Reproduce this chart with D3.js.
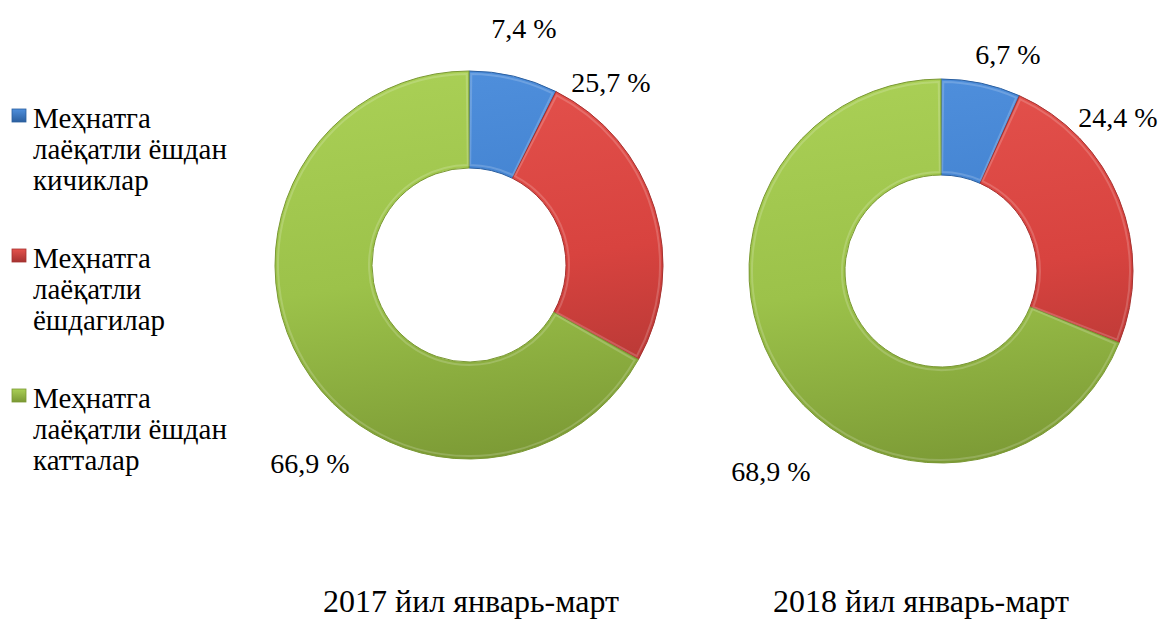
<!DOCTYPE html>
<meta charset="utf-8">
<style>
body {
  margin: 0;
  background: #fff;
}
svg text {
  font-family: "Liberation Serif", "Times New Roman", serif;
  fill: #000;
}
</style>
<body>
<script src="https://cdn.jsdelivr.net/npm/d3@7/dist/d3.min.js"></script>
<script>
var width = 1161,
    height = 619;

// data
var categories = ["Меҳнатга лаёқатли ёшдан кичиклар",
                  "Меҳнатга лаёқатли ёшдагилар",
                  "Меҳнатга лаёқатли ёшдан катталар"];
var legendLines = [["Меҳнатга", "лаёқатли ёшдан", "кичиклар"],
                   ["Меҳнатга", "лаёқатли", "ёшдагилар"],
                   ["Меҳнатга", "лаёқатли ёшдан", "катталар"]];
var periods = ["2017 йил январь-март", "2018 йил январь-март"];
var values2017 = [7.4, 25.7, 66.9];
var values2018 = [6.7, 24.4, 68.9];

// layout
var colors = ["#3f7fcd", "#d8433f", "#9cc24a"];
var darks = ["#2b5f9f", "#a53230", "#7a9834"];
var lights = ["#4f8fdc", "#e4524d", "#a9cf55"];
var donuts = [
  {cx: 469, cy: 265, r: 194, values: values2017, title: periods[0], tx: 471,
   labels: [[55, -227], [142, -173], [-159, 208]]},
  {cx: 941, cy: 271, r: 192, values: values2018, title: periods[1], tx: 921,
   labels: [[67, -207], [177, -144], [-170, 210]]}
];

var svg = d3.select("body").append("svg")
    .attr("width", width)
    .attr("height", height);

var defs = svg.append("defs");
colors.forEach(function(c, i) {
  var g = defs.append("linearGradient")
      .attr("id", "grad" + i)
      .attr("gradientUnits", "userSpaceOnUse")
      .attr("x1", 0).attr("y1", -200).attr("x2", 60).attr("y2", 200);
  g.append("stop").attr("offset", "0%").attr("stop-color", lights[i]);
  g.append("stop").attr("offset", "50%").attr("stop-color", c);
  g.append("stop").attr("offset", "100%").attr("stop-color", darks[i]);
  var m = defs.append("linearGradient")
      .attr("id", "mark" + i)
      .attr("x1", 0).attr("y1", 0).attr("x2", 0).attr("y2", 1);
  m.append("stop").attr("offset", "0%").attr("stop-color", lights[i]);
  m.append("stop").attr("offset", "100%").attr("stop-color", darks[i]);
});

var pie = d3.pie().sort(null).value(function(d) { return d; });

donuts.forEach(function(dn) {
  var arc = d3.arc().innerRadius(dn.r * 0.5).outerRadius(dn.r);
  var rim = d3.arc().innerRadius(dn.r * 0.5 + 3).outerRadius(dn.r - 3);
  var g = svg.append("g").attr("transform", "translate(" + dn.cx + "," + dn.cy + ")");
  var arcs = pie(dn.values);
  g.selectAll("path.slice")
    .data(arcs)
    .enter().append("path")
      .attr("class", "slice")
      .attr("d", arc)
      .attr("fill", function(d, i) { return "url(#grad" + i + ")"; })
      .attr("stroke", function(d, i) { return darks[i]; })
      .attr("stroke-width", 1);

  // bevel highlight
  g.selectAll("path.rim")
    .data(arcs)
    .enter().append("path")
      .attr("class", "rim")
      .attr("d", function(d) {
        return rim({startAngle: d.startAngle + 0.012, endAngle: d.endAngle - 0.012});
      })
      .attr("fill", "none")
      .attr("stroke", "#ffffff")
      .attr("stroke-opacity", 0.18)
      .attr("stroke-width", 2);

  g.selectAll("text.lbl")
    .data(arcs)
    .enter().append("text")
      .attr("class", "lbl")
      .attr("x", function(d, i) { return dn.labels[i][0]; })
      .attr("y", function(d, i) { return dn.labels[i][1]; })
      .attr("text-anchor", "middle")
      .attr("font-size", 28)
      .text(function(d) { return d.data.toFixed(1).replace(".", ",") + " %"; });

  svg.append("text")
    .attr("x", dn.tx)
    .attr("y", 612)
    .attr("text-anchor", "middle")
    .attr("font-size", 32)
    .text(dn.title);
});

// legend
var legend = svg.append("g").attr("class", "legend");
var item = legend.selectAll("g")
  .data(categories)
  .enter().append("g")
    .attr("transform", function(d, i) { return "translate(0," + (128 + i * 140) + ")"; });
item.append("rect")
    .attr("x", 12).attr("y", -19)
    .attr("width", 14).attr("height", 13)
    .attr("fill", function(d, i) { return "url(#mark" + i + ")"; })
    .attr("stroke", function(d, i) { return darks[i]; })
    .attr("stroke-width", 0.8);
item.append("text")
    .attr("x", 33)
    .attr("font-size", 29)
    .selectAll("tspan")
    .data(function(d, i) { return legendLines[i]; })
    .enter().append("tspan")
      .attr("x", 33)
      .attr("dy", function(d, j) { return j === 0 ? 0 : 31; })
      .text(function(d) { return d; });
</script>
</body>
